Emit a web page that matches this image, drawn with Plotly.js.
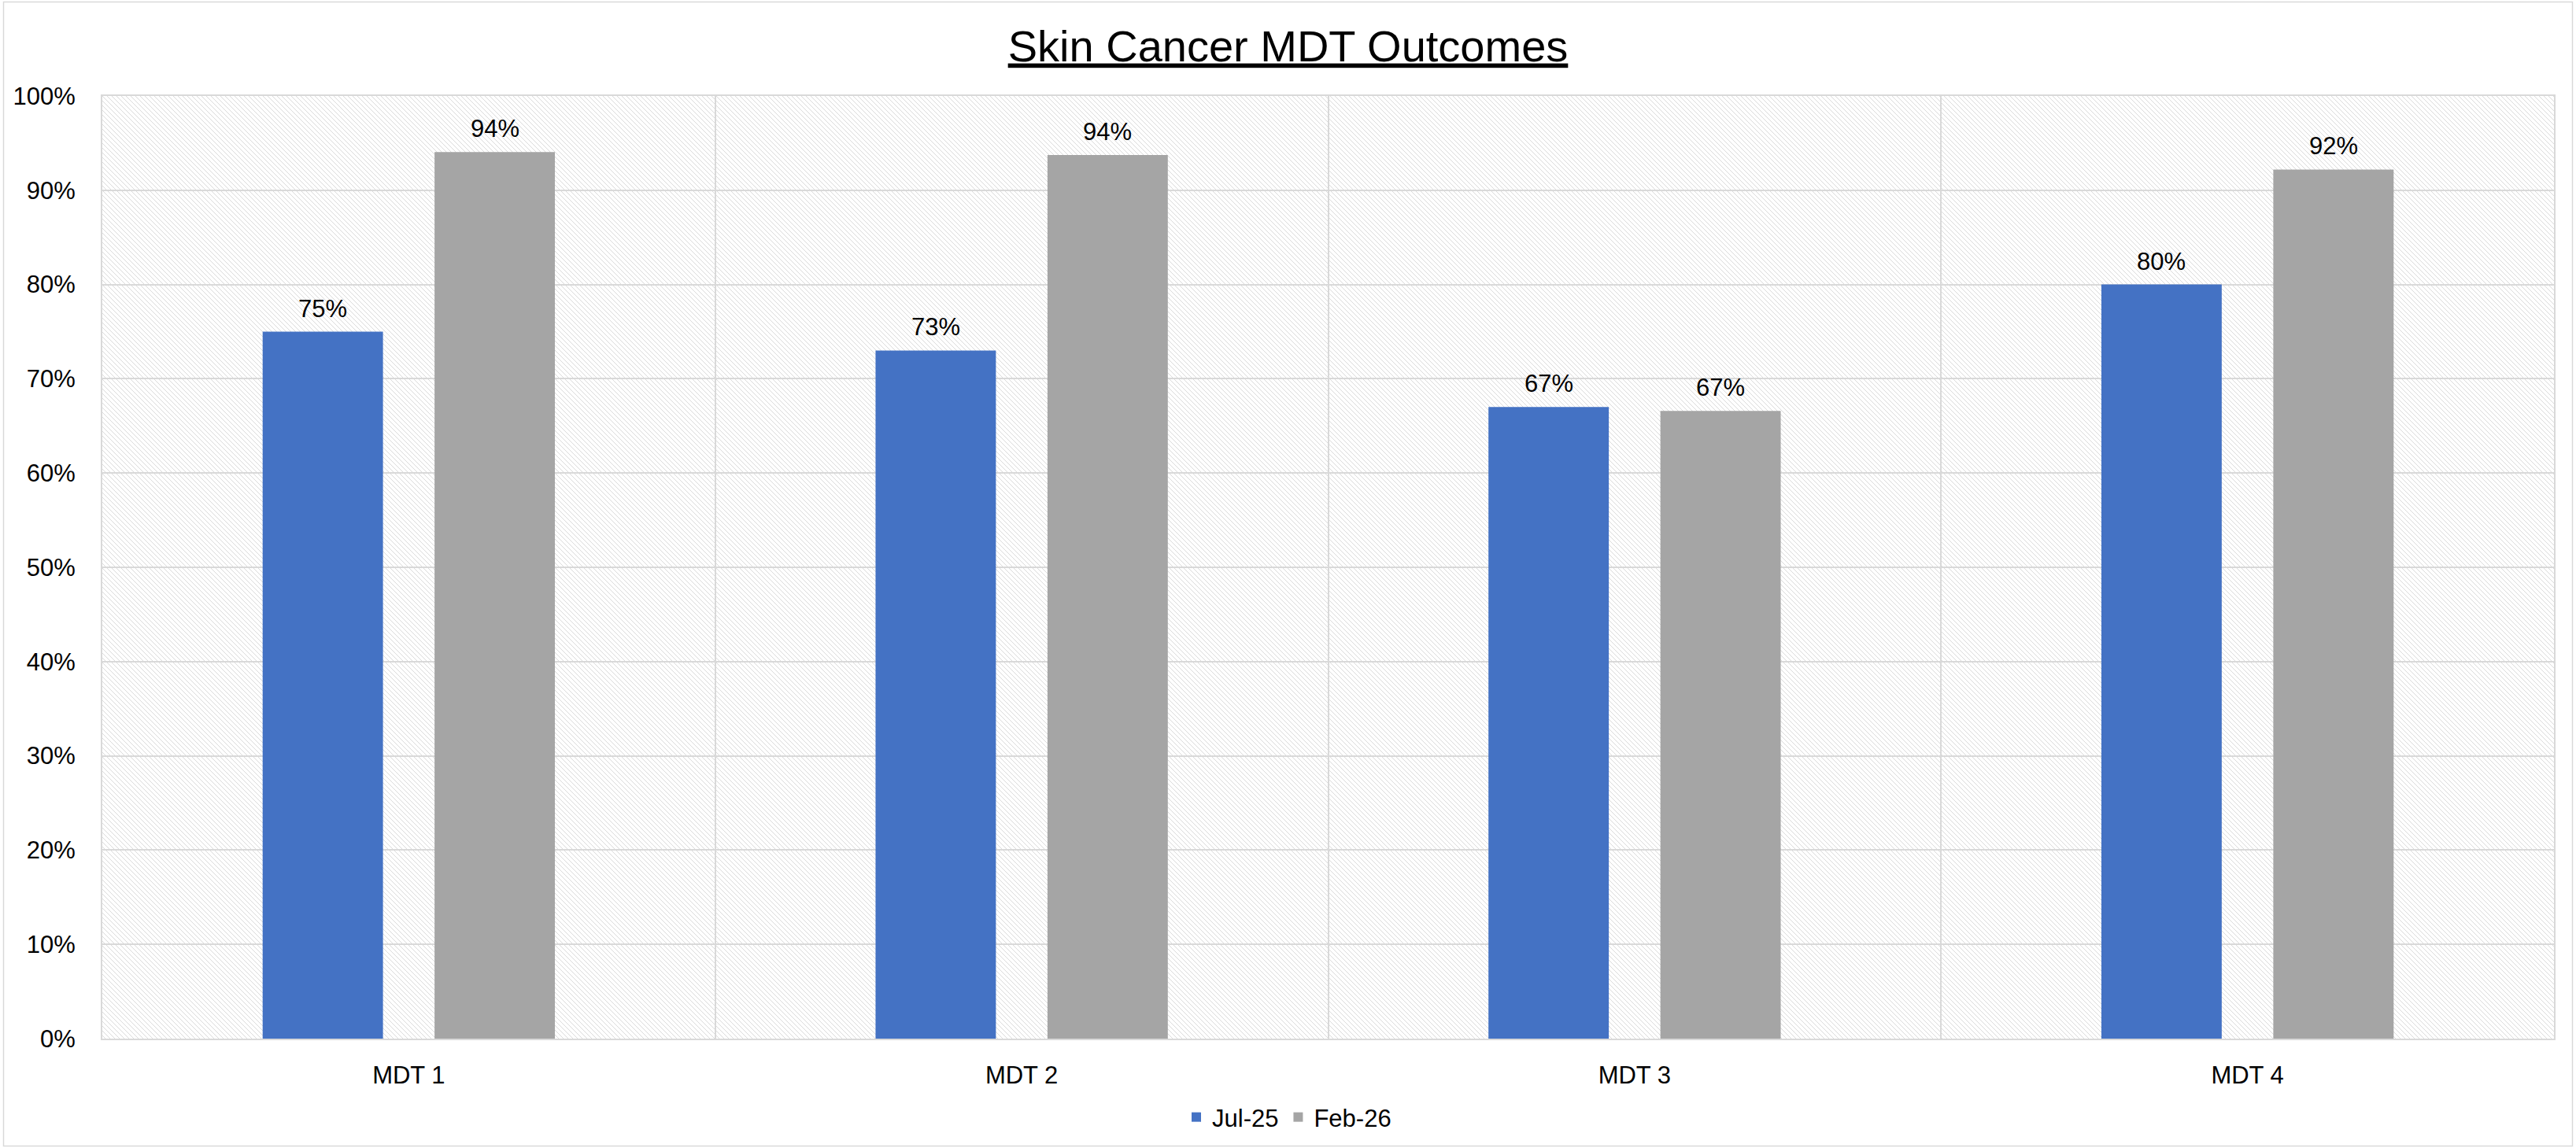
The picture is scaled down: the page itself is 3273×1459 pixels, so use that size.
<!DOCTYPE html>
<html>
<head>
<meta charset="utf-8">
<script src="https://cdn.plot.ly/plotly-3.0.1.min.js"></script>
<style>
  html, body { margin: 0; padding: 0; background: #ffffff; }
  #chart { width: 3273px; height: 1459px; }
</style>
</head>
<body>
<div id="chart"></div>
<script>
// ---- data ----
const categories = ["MDT 1", "MDT 2", "MDT 3", "MDT 4"];
const seriesNames = ["Jul-25", "Feb-26"];
const jul25 = [0.75, 0.73, 0.67, 0.80];
const feb26 = [0.9405, 0.9374, 0.666, 0.922];
const chartTitle = "Skin Cancer MDT Outcomes";

// ---- layout constants ----
const W = 3273, H = 1459;
const M = { l: 130, r: 28, t: 122, b: 139 };
const plotW = W - M.l - M.r, plotH = H - M.t - M.b;
const FONT = "Liberation Sans, Arial, sans-serif";
const GRID = "#d9d9d9";
const BARGAP = 0.439, BARGROUPGAP = 0.3;

// hatched plot background (downward diagonal stripes)
const hatchSvg =
  '<svg xmlns="http://www.w3.org/2000/svg" width="' + plotW + '" height="' + plotH + '">' +
  '<defs><pattern id="p" patternUnits="userSpaceOnUse" width="6" height="6">' +
  '<rect width="6" height="6" fill="#ffffff"/>' +
  '<path d="M0,0 L6,6 M-1,5 L1,7 M5,-1 L7,1" stroke="#dadada" stroke-width="1"/>' +
  '</pattern></defs>' +
  '<rect width="100%" height="100%" fill="url(#p)"/></svg>';
const hatchUri = "data:image/svg+xml;charset=utf-8," + encodeURIComponent(hatchSvg);

const labelFont = { family: FONT, size: 31, color: "#000000" };
const seriesValues = [jul25, feb26];

const traces = [
  { type: "bar", name: seriesNames[0], x: categories, y: jul25,
    marker: { color: "#4472C4" }, hoverinfo: "skip" },
  { type: "bar", name: seriesNames[1], x: categories, y: feb26,
    marker: { color: "#A5A5A5" }, hoverinfo: "skip" }
];

// data labels: centred over each bar of the group (offset in category units from bargap)
const slot = (1 - BARGAP) / seriesValues.length;
const annotations = [];
seriesValues.forEach((vals, s) => {
  const off = (s - (seriesValues.length - 1) / 2) * slot;
  vals.forEach((v, i) => {
    annotations.push({
      xref: "x", yref: "y",
      x: i + off, y: v,
      text: Math.round(v * 100) + "%",
      showarrow: false,
      xanchor: "center", yanchor: "bottom",
      yshift: 10,
      font: labelFont
    });
  });
});

const layout = {
  width: W, height: H,
  margin: M,
  paper_bgcolor: "#ffffff",
  plot_bgcolor: "#ffffff",
  font: { family: FONT, size: 31, color: "#000000" },
  title: {
    text: "<u>" + chartTitle + "</u>",
    font: { family: FONT, size: 56, color: "#000000" },
    x: 0.5, xref: "container", xanchor: "center",
    y: 1 - 58 / H, yref: "container", yanchor: "middle"
  },
  barmode: "group",
  bargap: BARGAP,
  bargroupgap: BARGROUPGAP,
  xaxis: {
    type: "category",
    tickson: "boundaries",
    ticks: "",
    showgrid: true, gridcolor: GRID, gridwidth: 2,
    showline: true, linecolor: GRID, linewidth: 2, mirror: true,
    tickfont: { family: FONT, size: 31, color: "#000000" },
    ticklabelstandoff: 18,
    fixedrange: true
  },
  yaxis: {
    range: [0, 1],
    tick0: 0, dtick: 0.1,
    tickformat: ".0%",
    ticks: "",
    showgrid: true, gridcolor: GRID, gridwidth: 2,
    zeroline: false,
    showline: true, linecolor: GRID, linewidth: 2, mirror: true,
    tickfont: { family: FONT, size: 31, color: "#000000" },
    ticklabelstandoff: 26,
    fixedrange: true
  },
  legend: {
    orientation: "h",
    xref: "container", yref: "container",
    x: 0.5, xanchor: "center",
    y: 1 - 1420 / H, yanchor: "middle",
    font: { family: FONT, size: 31, color: "#000000" },
    itemwidth: 30,
    traceorder: "normal"
  },
  annotations: annotations,
  images: [{
    source: hatchUri,
    xref: "paper", yref: "paper",
    x: 0, y: 1, sizex: 1, sizey: 1,
    xanchor: "left", yanchor: "top",
    sizing: "stretch", layer: "below"
  }],
  shapes: [{
    type: "rect", xref: "paper", yref: "paper",
    x0: (4.5 - M.l) / plotW, x1: (W - 4.5 - M.l) / plotW,
    y0: -(M.b - 2.5) / plotH,
    y1: (H - 2.5 - M.b) / plotH,
    line: { color: GRID, width: 1.5 },
    fillcolor: "rgba(0,0,0,0)",
    layer: "above"
  }],
  showlegend: true,
  hovermode: false
};

Plotly.newPlot("chart", traces, layout, { displayModeBar: false, staticPlot: true });
</script>
</body>
</html>
